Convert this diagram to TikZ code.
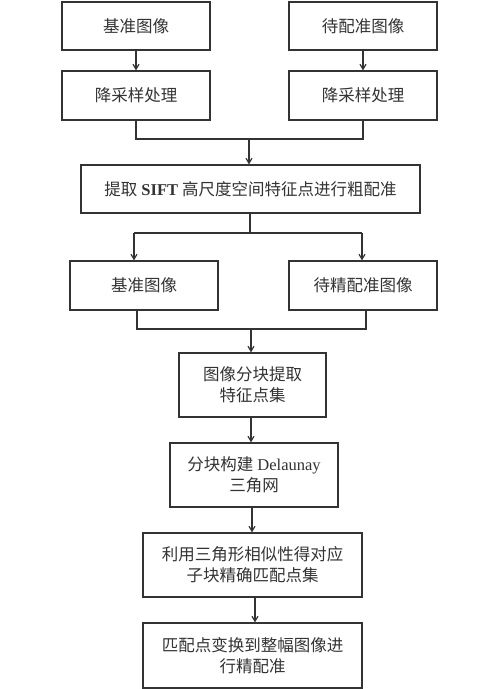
\documentclass[tikz,border=0pt]{standalone}
\usepackage{fontspec}
\setmainfont{Liberation Serif}
\newfontfamily\cjk{Noto Sans CJK SC}
\usetikzlibrary{arrows.meta, positioning, calc}
\definecolor{LineGray}{HTML}{333333}
\definecolor{TextGray}{HTML}{333333}
\tikzset{
  pbox/.style={draw=LineGray, line width=1.2pt, align=center, inner sep=2pt,
    font=\fontsize{16.5}{21}\selectfont, text=TextGray, fill=white},
  wbox/.style={pbox, minimum width=148pt, minimum height=48pt},
  flow/.style={-{Straight Barb[length=5pt, width=6pt]}, line width=1.2pt, draw=LineGray},
  link/.style={line width=1.2pt, draw=LineGray},
}

\begin{document}
\begin{tikzpicture}[x=1pt, y=-1pt]
    \useasboundingbox (0,0) rectangle (500,689);
    % coarse stage
    \node[wbox] (ref) at (136,26) {\cjk 基准图像};
    \node[wbox] (sen) at (363,26) {\cjk 待配准图像};
    \node[wbox, minimum height=49pt] (dsl) at (136,95.5) {\cjk 降采样处理};
    \node[wbox, minimum height=49pt] (dsr) at (363,95.5) {\cjk 降采样处理};
    \node[pbox, minimum width=339pt, minimum height=48pt] (sift) at (250.5,189)
      {{\cjk 提取} \textbf{SIFT} {\cjk 高尺度空间特征点进行粗配准}};
    % fine stage
    \node[wbox, minimum height=49pt] (ref2) at (144,285.5) {\cjk 基准图像};
    \node[wbox, minimum height=49pt] (fine) at (363,285.5) {\cjk 待精配准图像};
    \node[pbox, minimum width=147pt, minimum height=64pt] (blk) at (252.5,385)
      {\cjk 图像分块提取\\\cjk 特征点集};
    \node[pbox, minimum width=168pt, minimum height=64pt] (del) at (254,475)
      {{\cjk 分块构建} Delaunay\\\cjk 三角网};
    \node[pbox, minimum width=219pt, minimum height=64pt] (tri) at (252.5,565)
      {\cjk 利用三角形相似性得对应\\\cjk 子块精确匹配点集};
    \node[pbox, minimum width=219pt, minimum height=65pt] (fin) at (252.5,655.5)
      {\cjk 匹配点变换到整幅图像进\\\cjk 行精配准};

    \coordinate (j1) at (249,139);
    \coordinate (j2) at (250,233);
    \coordinate (j3) at (251,329);

    \draw[flow] (ref) -- (dsl); \draw[flow] (sen) -- (dsr);
    \draw[link] (dsl) |- (j1) -| (dsr);
    \draw[flow] (j1) -- (j1 |- sift.north);
    \draw[link] (sift.south -| j2) -- (j2);
    \draw[link] (j2 -| 134,0) -- (j2 -| 362,0);
    \draw[flow] (j2 -| 134,0) -- (ref2.north -| 134,0);
    \draw[flow] (j2 -| 362,0) -- (fine.north -| 362,0);
    \draw[link] (ref2.south -| 137,0) |- (j3) -| (fine.south -| 366,0);
    \draw[flow] (j3) -- (j3 |- blk.north);
    \draw[flow] (blk.south -| 251,0) -- (del.north -| 251,0);
    \draw[flow] (del.south -| 252,0) -- (tri.north -| 252,0);
    \draw[flow] (tri.south -| 255,0) -- (fin.north -| 255,0);
\end{tikzpicture}
\end{document}
